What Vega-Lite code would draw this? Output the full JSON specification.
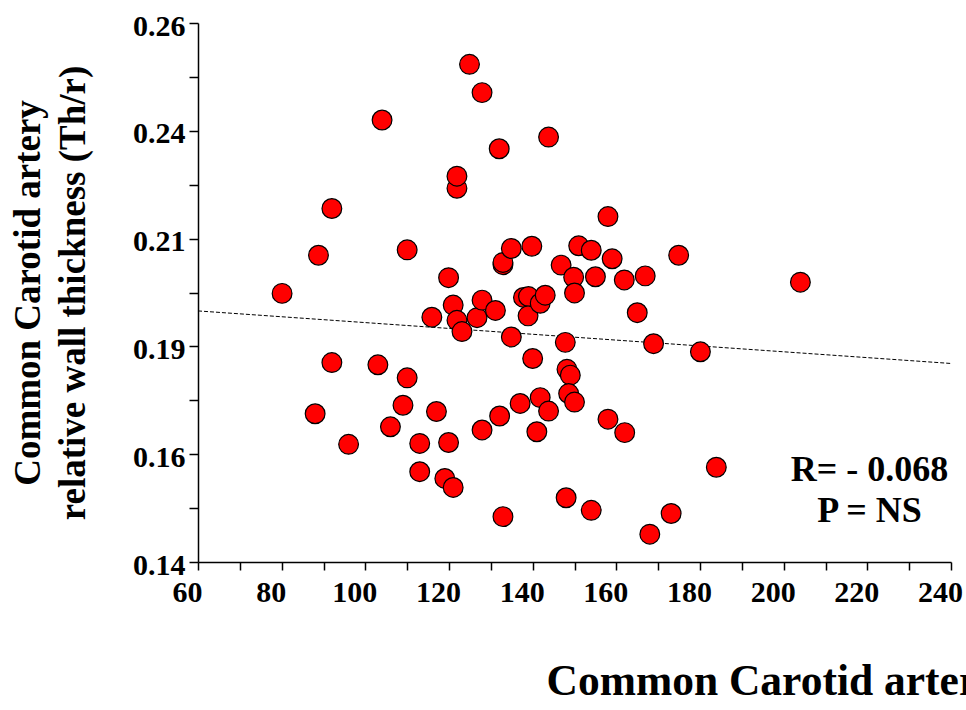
{
  "$schema": "https://vega.github.io/schema/vega-lite/v6.json",
  "width": 753,
  "height": 539,
  "autosize": {"type": "none"},
  "padding": {"left": 198, "top": 23, "right": 15, "bottom": 148},
  "background": "white",
  "config": {"view": {"stroke": null}, "font": "Liberation Serif"},
  "datasets": {
    "pts": [
      {"x": 80.1, "y": 0.1998}, {"x": 88.8, "y": 0.2083}, {"x": 92.0, "y": 0.2187}, {"x": 88.0, "y": 0.1730},
      {"x": 92.0, "y": 0.1844}, {"x": 96.0, "y": 0.1662}, {"x": 104.0, "y": 0.2384}, {"x": 103.0, "y": 0.1839},
      {"x": 110.0, "y": 0.2095}, {"x": 110.0, "y": 0.1810}, {"x": 109.0, "y": 0.1749}, {"x": 106.0, "y": 0.1701},
      {"x": 113.0, "y": 0.1664}, {"x": 113.0, "y": 0.1601}, {"x": 117.0, "y": 0.1735}, {"x": 115.9, "y": 0.1945},
      {"x": 119.0, "y": 0.1586}, {"x": 119.9, "y": 0.1666}, {"x": 119.9, "y": 0.2033}, {"x": 121.0, "y": 0.1566},
      {"x": 121.0, "y": 0.1972}, {"x": 121.9, "y": 0.1938}, {"x": 123.1, "y": 0.1913}, {"x": 121.9, "y": 0.2232},
      {"x": 121.9, "y": 0.2259}, {"x": 124.9, "y": 0.2508}, {"x": 126.7, "y": 0.1944}, {"x": 127.9, "y": 0.1983},
      {"x": 127.9, "y": 0.1694}, {"x": 127.9, "y": 0.2445}, {"x": 131.1, "y": 0.1960}, {"x": 132.0, "y": 0.2320},
      {"x": 132.1, "y": 0.1725}, {"x": 132.9, "y": 0.2062}, {"x": 132.9, "y": 0.2067}, {"x": 132.9, "y": 0.1501},
      {"x": 134.9, "y": 0.2098}, {"x": 134.9, "y": 0.1901}, {"x": 137.0, "y": 0.1753}, {"x": 137.8, "y": 0.1989},
      {"x": 139.0, "y": 0.1991}, {"x": 138.9, "y": 0.1948}, {"x": 139.8, "y": 0.2103}, {"x": 140.0, "y": 0.1853},
      {"x": 141.8, "y": 0.1976}, {"x": 141.8, "y": 0.1766}, {"x": 141.0, "y": 0.1690}, {"x": 143.0, "y": 0.1994},
      {"x": 143.8, "y": 0.1736}, {"x": 143.8, "y": 0.2346}, {"x": 146.8, "y": 0.2061}, {"x": 147.8, "y": 0.1889},
      {"x": 148.2, "y": 0.1829}, {"x": 149.0, "y": 0.1816}, {"x": 148.0, "y": 0.1543}, {"x": 148.6, "y": 0.1775},
      {"x": 150.0, "y": 0.1756}, {"x": 149.8, "y": 0.2034}, {"x": 150.0, "y": 0.1999}, {"x": 151.0, "y": 0.2104},
      {"x": 154.0, "y": 0.2094}, {"x": 154.0, "y": 0.1515}, {"x": 155.0, "y": 0.2035}, {"x": 158.0, "y": 0.2169},
      {"x": 159.0, "y": 0.2075}, {"x": 158.0, "y": 0.1718}, {"x": 162.0, "y": 0.1688}, {"x": 161.9, "y": 0.2028},
      {"x": 165.0, "y": 0.1955}, {"x": 166.9, "y": 0.2037}, {"x": 168.0, "y": 0.1462}, {"x": 168.9, "y": 0.1886},
      {"x": 173.1, "y": 0.1508}, {"x": 174.9, "y": 0.2083}, {"x": 180.1, "y": 0.1868}, {"x": 183.9, "y": 0.1611},
      {"x": 204.0, "y": 0.2023}
    ],
    "fit": [{"x": 60, "y": 0.1959}, {"x": 240, "y": 0.1842}],
    "stats": [
      {"x": 220.5, "y": 0.158, "label": "R= - 0.068"},
      {"x": 220.5, "y": 0.1488, "label": "P = NS"}
    ]
  },
  "encoding": {
    "x": {
      "field": "x", "type": "quantitative",
      "scale": {"domain": [60, 240], "nice": false, "zero": false},
      "axis": {
        "values": [60, 70, 80, 90, 100, 110, 120, 130, 140, 150, 160, 170, 180, 190, 200, 210, 220, 230, 240],
        "labelExpr": "datum.value % 20 === 0 ? datum.label : ''",
        "grid": false, "domainColor": "black", "domainWidth": 1.5, "tickColor": "black", "tickWidth": 1.5, "tickSize": 8,
        "labelFont": "Liberation Serif", "labelFontSize": 30, "labelFontWeight": "bold", "labelColor": "black", "labelPadding": 7,
        "labelOffset": -11, "labelFlush": false, "labelOverlap": false,
        "title": "Common Carotid artery", "titleFont": "Liberation Serif", "titleFontSize": 43.5, "titleFontWeight": "bold", "titleColor": "black",
        "titleX": 348, "titleY": 132, "titleAlign": "left", "titleBaseline": "alphabetic", "titleAnchor": "start"
      }
    },
    "y": {
      "field": "y", "type": "quantitative",
      "scale": {"domain": [0.14, 0.26], "nice": false, "zero": false},
      "axis": {
        "values": [0.14, 0.152, 0.164, 0.176, 0.188, 0.2, 0.212, 0.224, 0.236, 0.248, 0.26],
        "labelExpr": "(round(datum.value*1000) - 140) % 24 === 0 ? format(datum.value, '.2f') : ''",
        "grid": false, "domainColor": "black", "domainWidth": 1.5, "tickColor": "black", "tickWidth": 1.5, "tickSize": 9,
        "labelFont": "Liberation Serif", "labelFontSize": 30, "labelFontWeight": "bold", "labelColor": "black", "labelPadding": 4,
        "labelOffset": 3, "labelFlush": false, "labelOverlap": false,
        "title": ["Common Carotid artery", "relative wall thickness (Th/r)"],
        "titleFont": "Liberation Serif", "titleFontSize": 37, "titleFontWeight": "bold", "titleColor": "black",
        "titleLineHeight": 45, "titlePadding": 40
      }
    }
  },
  "layer": [
    {
      "data": {"name": "fit"},
      "mark": {"type": "line", "color": "black", "strokeWidth": 1, "strokeDash": [4, 2]}
    },
    {
      "data": {"name": "pts"},
      "mark": {"type": "circle", "size": 390, "fill": "#ff0000", "stroke": "black", "strokeWidth": 1.2, "opacity": 1}
    },
    {
      "data": {"name": "stats"},
      "mark": {"type": "text", "font": "Liberation Serif", "fontSize": 36, "fontWeight": "bold", "color": "black", "align": "center", "baseline": "alphabetic"},
      "encoding": {"text": {"field": "label"}}
    }
  ]
}
